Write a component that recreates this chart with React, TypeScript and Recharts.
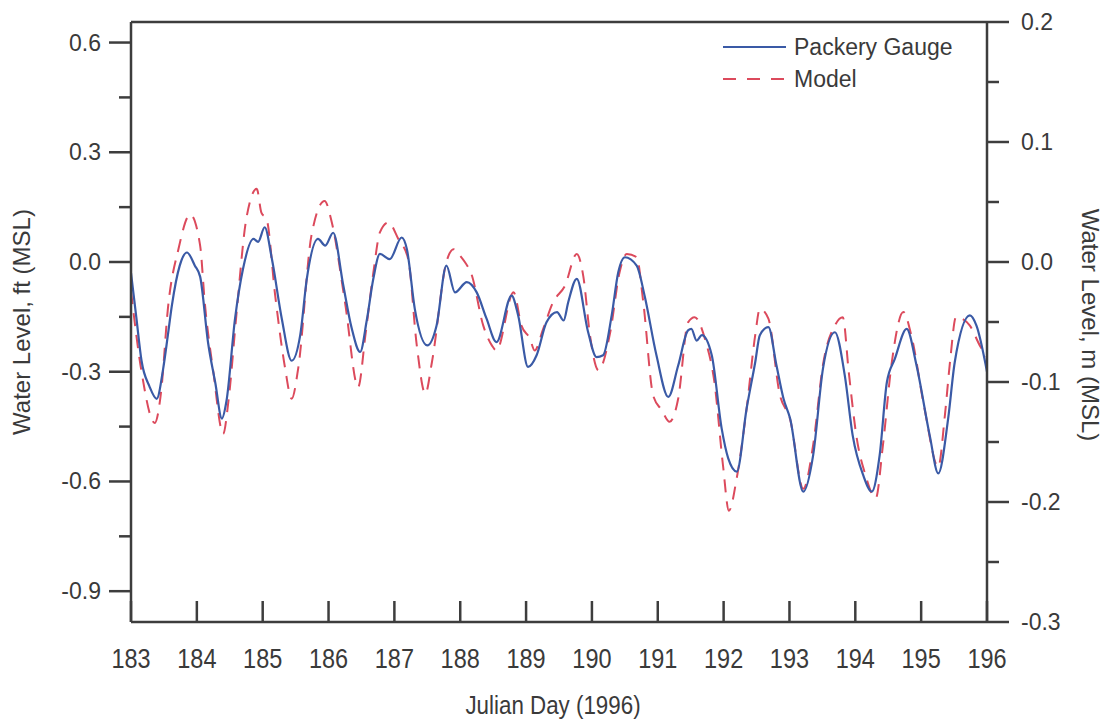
import React from "react";
import { LineChart, Line, XAxis, YAxis, ReferenceLine, Legend } from "recharts";

// Julian day ticks on the bottom axis
const days = [183, 184, 185, 186, 187, 188, 189, 190, 191, 192, 193, 194, 195, 196];

// left axis (feet) and right axis (metres) ticks
const ftMajor = [0.6, 0.3, 0, -0.3, -0.6, -0.9];
const ftMinor = [0.45, 0.15, -0.15, -0.45, -0.75];
const mMajor = [0.2, 0.1, 0, -0.1, -0.2, -0.3];
const mMinor = [0.15, 0.05, -0.05, -0.15, -0.25];

// Packery gauge record, water level in ft (MSL)
const gaugeDays = [
  183.0, 183.08, 183.16, 183.28, 183.39, 183.49, 183.56, 183.62, 183.74, 183.85,
  183.97, 184.05, 184.17, 184.28, 184.38, 184.45, 184.58, 184.7, 184.86, 184.93,
  185.03, 185.14, 185.29, 185.44, 185.57, 185.67, 185.84, 185.95, 186.07, 186.22,
  186.35, 186.48, 186.58, 186.68, 186.78, 186.93, 187.11, 187.19, 187.31, 187.5,
  187.64, 187.79, 187.92, 188.1, 188.25, 188.4, 188.55, 188.78, 188.88, 189.03,
  189.16, 189.31, 189.47, 189.57, 189.64, 189.77, 189.94, 190.07, 190.17, 190.3,
  190.4, 190.5, 190.68, 190.8, 190.98, 191.16, 191.31, 191.46, 191.51, 191.59,
  191.67, 191.82, 191.97, 192.07, 192.2, 192.35, 192.48, 192.55, 192.68, 192.8,
  192.91, 193.01, 193.21, 193.36, 193.51, 193.69, 193.84, 193.96, 194.12, 194.25,
  194.37, 194.48, 194.6, 194.78, 194.93, 195.13, 195.26, 195.41, 195.51, 195.74,
  195.84, 196.0,
];
const gaugeFt = [
  -0.03, -0.15, -0.27, -0.34, -0.374, -0.29, -0.2, -0.12, -0.01, 0.026,
  -0.01, -0.04, -0.22, -0.33, -0.428, -0.38, -0.155, -0.02, 0.063, 0.055,
  0.095, 0.008, -0.155, -0.27, -0.2, -0.046, 0.063, 0.045, 0.08, -0.06,
  -0.18, -0.246, -0.16, -0.046, 0.022, 0.008, 0.067, 0.035, -0.128, -0.228,
  -0.174, -0.01, -0.083, -0.055, -0.083, -0.155, -0.219, -0.092, -0.146, -0.287,
  -0.255, -0.165, -0.137, -0.16, -0.11, -0.046, -0.19, -0.26, -0.255, -0.146,
  -0.028, 0.013, -0.01, -0.092, -0.255, -0.369, -0.283, -0.187, -0.183, -0.215,
  -0.2, -0.255, -0.455, -0.537, -0.573, -0.4, -0.274, -0.2, -0.178, -0.28,
  -0.374, -0.428, -0.628, -0.528, -0.29, -0.192, -0.31, -0.474, -0.583, -0.628,
  -0.528, -0.328, -0.265, -0.183, -0.283, -0.474, -0.578, -0.428, -0.274, -0.146,
  -0.174, -0.3,
];

// model result, water level in ft (MSL)
const modelDays = [
  183.0, 183.16, 183.36, 183.46, 183.56, 183.72, 183.9, 184.05, 184.12, 184.25,
  184.4, 184.48, 184.6, 184.75, 184.91, 184.98, 185.06, 185.19, 185.34, 185.44,
  185.54, 185.74, 185.94, 186.05, 186.25, 186.45, 186.56, 186.68, 186.78, 186.91,
  187.06, 187.21, 187.34, 187.47, 187.57, 187.79, 187.9, 188.0, 188.07, 188.17,
  188.35, 188.48, 188.55, 188.81, 188.93, 189.06, 189.13, 189.26, 189.41, 189.59,
  189.77, 189.87, 189.97, 190.1, 190.28, 190.42, 190.53, 190.68, 190.78, 190.93,
  191.06, 191.18, 191.31, 191.46, 191.56, 191.73, 191.86, 191.99, 192.08, 192.2,
  192.35, 192.48, 192.55, 192.68, 192.85, 193.01, 193.21, 193.36, 193.51, 193.7,
  193.81, 193.9, 194.02, 194.15, 194.31, 194.42, 194.55, 194.73, 194.85, 195.05,
  195.26, 195.36, 195.44, 195.53, 195.62, 195.74, 195.89, 196.0,
];
const modelFt = [
  -0.08, -0.3, -0.44, -0.35, -0.128, 0.035, 0.13, 0.045, -0.11, -0.3,
  -0.47, -0.38, -0.146, 0.117, 0.2, 0.135, 0.117, -0.092, -0.29, -0.374,
  -0.29, 0.072, 0.167, 0.108, -0.11, -0.342, -0.2, -0.03, 0.081, 0.108,
  0.063, 0.008, -0.228, -0.36, -0.274, 0.0, 0.035, 0.017, 0.0, -0.033,
  -0.174, -0.228, -0.242, -0.083, -0.174, -0.21, -0.242, -0.183, -0.11, -0.065,
  0.022, -0.04, -0.2, -0.296, -0.19, -0.028, 0.022, 0.013, -0.11, -0.365,
  -0.405, -0.437, -0.374, -0.165, -0.151, -0.219, -0.328, -0.555, -0.68, -0.59,
  -0.4, -0.2, -0.128, -0.155, -0.36, -0.43, -0.62, -0.5, -0.28, -0.17,
  -0.151, -0.3, -0.48, -0.58, -0.646, -0.5, -0.28, -0.137, -0.2, -0.4,
  -0.56, -0.42, -0.27, -0.15, -0.155, -0.174, -0.228, -0.26,
];

const FT_PER_M = 3.28084;
const mDomain: [number, number] = [-0.3, 0.2];
const ftDomain: [number, number] = [mDomain[0] * FT_PER_M, mDomain[1] * FT_PER_M];

const gaugeData = gaugeDays.map((day, i) => ({ day, level: gaugeFt[i] }));
const modelData = modelDays.map((day, i) => ({ day, level: modelFt[i] }));

const AXIS = "#3d3d3d";
const TEXT = "#3a3a3a";
const BLUE = "#3a5aa6";
const RED = "#dc4a5c";
const FONT = "'Liberation Sans', Arial, sans-serif";

const isIn = (list: number[], v: number) => list.some((t) => Math.abs(t - v) < 1e-6);

const FtTick = (props: any) => {
  const { x, y, payload } = props;
  const major = isIn(ftMajor, payload.value);
  return (
    <g>
      <line x1={x - (major ? 22 : 12)} x2={x} y1={y} y2={y} stroke={AXIS} strokeWidth={2.5} />
      {major && (
        <text x={x - 30} y={y + 8} textAnchor="end" fill={TEXT} fontSize={23} fontFamily={FONT}>
          {payload.value.toFixed(1)}
        </text>
      )}
    </g>
  );
};

const MTick = (props: any) => {
  const { x, y, payload } = props;
  const major = isIn(mMajor, payload.value);
  return (
    <g>
      <line x1={x} x2={x + (major ? 22 : 12)} y1={y} y2={y} stroke={AXIS} strokeWidth={2.5} />
      {major && (
        <text x={x + 34} y={y + 8} textAnchor="start" fill={TEXT} fontSize={23} fontFamily={FONT}>
          {payload.value.toFixed(1)}
        </text>
      )}
    </g>
  );
};

// day labels are drawn condensed, as in the original figure
const DayTick = (props: any) => {
  const { x, y, payload } = props;
  return (
    <g>
      <line x1={x} x2={x} y1={y} y2={y - 21} stroke={AXIS} strokeWidth={2.5} />
      <text
        transform={`translate(${x} ${y + 46}) scale(0.84 1)`}
        textAnchor="middle"
        fill={TEXT}
        fontSize={28}
        fontFamily={FONT}
      >
        {payload.value}
      </text>
    </g>
  );
};

const legendItems = [
  { name: "Packery Gauge", color: BLUE, dash: undefined },
  { name: "Model", color: RED, dash: "13 11" },
];

const LegendBox = () => (
  <div style={{ fontFamily: FONT, fontSize: 23, color: TEXT }}>
    {legendItems.map((s) => (
      <div key={s.name} style={{ display: "flex", alignItems: "center", height: 32 }}>
        <svg width={66} height={8}>
          <line x1={0} x2={63} y1={4} y2={4} stroke={s.color} strokeWidth={2} strokeDasharray={s.dash} />
        </svg>
        <span style={{ marginLeft: 5, lineHeight: "32px" }}>{s.name}</span>
      </div>
    ))}
  </div>
);

export default function App() {
  return (
    <div style={{ position: "absolute", left: 0, top: 0, width: 1105, height: 721, background: "#fff" }}>
      <LineChart width={1105} height={721} margin={{ top: 22, right: 0, bottom: 0, left: 0 }}>
        <XAxis
          dataKey="day"
          type="number"
          domain={[183, 196]}
          ticks={days}
          interval={0}
          height={99}
          tickSize={0}
          tickMargin={0}
          tickLine={false}
          tick={<DayTick />}
          axisLine={{ stroke: AXIS, strokeWidth: 2.5 }}
          allowDataOverflow
        />
        <YAxis
          yAxisId="ft"
          orientation="left"
          type="number"
          domain={ftDomain}
          ticks={[...ftMajor, ...ftMinor]}
          interval={0}
          width={131}
          tickSize={0}
          tickMargin={0}
          tickLine={false}
          tick={<FtTick />}
          axisLine={{ stroke: AXIS, strokeWidth: 2.5 }}
          allowDataOverflow
        />
        <YAxis
          yAxisId="m"
          orientation="right"
          type="number"
          domain={mDomain}
          ticks={[...mMajor, ...mMinor]}
          interval={0}
          width={118}
          tickSize={0}
          tickMargin={0}
          tickLine={false}
          tick={<MTick />}
          axisLine={{ stroke: AXIS, strokeWidth: 2.5 }}
          allowDataOverflow
        />
        <ReferenceLine yAxisId="ft" y={ftDomain[1]} stroke={AXIS} strokeWidth={2.5} />
        <Line
          yAxisId="ft"
          data={modelData}
          dataKey="level"
          name="Model"
          type="monotone"
          stroke={RED}
          strokeWidth={2}
          strokeDasharray="13 9"
          dot={false}
          activeDot={false}
          isAnimationActive={false}
        />
        <Line
          yAxisId="ft"
          data={gaugeData}
          dataKey="level"
          name="Packery Gauge"
          type="monotone"
          stroke={BLUE}
          strokeWidth={2.2}
          dot={false}
          activeDot={false}
          isAnimationActive={false}
        />
        <Legend
          layout="horizontal"
          verticalAlign="middle"
          align="center"
          content={<LegendBox />}
          wrapperStyle={{ position: "absolute", left: 723, top: 31, width: "auto", bottom: "auto" }}
        />
      </LineChart>
      <svg
        width={1105}
        height={721}
        style={{ position: "absolute", left: 0, top: 0, pointerEvents: "none" }}
      >
        <text
          transform="translate(30 322) rotate(-90)"
          textAnchor="middle"
          fill={TEXT}
          fontSize={24}
          fontFamily={FONT}
        >
          Water Level, ft (MSL)
        </text>
        <text
          transform="translate(1082 325) rotate(90)"
          textAnchor="middle"
          fill={TEXT}
          fontSize={24}
          fontFamily={FONT}
        >
          Water Level, m (MSL)
        </text>
        <text
          transform="translate(553 714) scale(0.86 1)"
          textAnchor="middle"
          fill={TEXT}
          fontSize={26}
          fontFamily={FONT}
        >
          Julian Day (1996)
        </text>
      </svg>
    </div>
  );
}
